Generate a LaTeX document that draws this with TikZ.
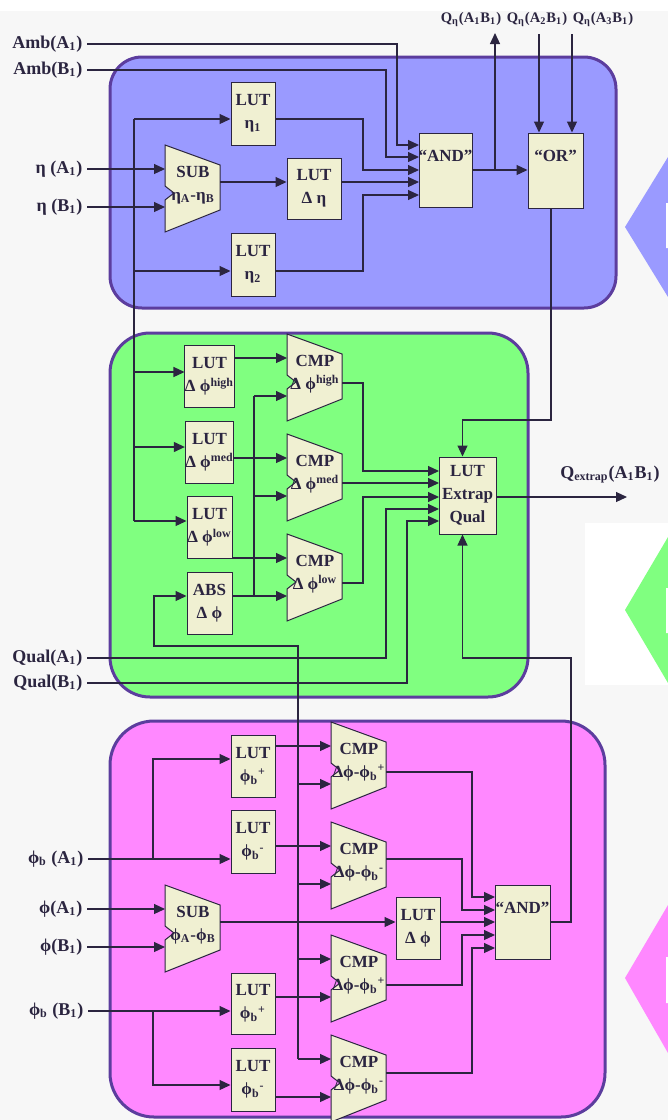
\documentclass[tikz,border=0pt]{standalone}
\usepackage{fontspec}
\setmainfont{Liberation Serif}
\usepackage{tikz}
\usetikzlibrary{arrows.meta}
\usepackage{xcolor}
\definecolor{ink}{HTML}{2B2540}
\definecolor{rim}{HTML}{5C3D9E}
\definecolor{etabg}{HTML}{9A9AFF}
\definecolor{qualbg}{HTML}{80FF80}
\definecolor{phibg}{HTML}{FF88FF}
\definecolor{cream}{HTML}{F0F0D2}
\definecolor{paper}{HTML}{F7F7F7}
\newcommand{\boxfont}{\bfseries\fontsize{8.5}{11.5}\selectfont}
\newcommand{\lblfont}{\bfseries\fontsize{9}{11}\selectfont}
\newcommand{\subx}[1]{\textsubscript{#1}}
\newcommand{\supx}[1]{\textsuperscript{#1}}
\newcommand{\phb}[1]{ϕ\subx{b}\supx{#1}}
\newcommand{\trapblk}[5]{%
  \draw[blk] (#2,#3) -- (#2+55,#3+20) -- (#2+55,#3+65) -- (#2,#3+87)
    -- (#2,#3+55) -- (#2+9,#3+48) -- (#2,#3+41) -- cycle;
  \node[txt] (#1) at (#2+28,#3+40) {#5};
  \coordinate (#1-a) at (#2,#3+24);
  \coordinate (#1-b) at (#2,#3+62);
  \coordinate (#1-o) at (#2+55,#3+#4);
}

\begin{document}
\begin{tikzpicture}[x=0.5pt,y=-0.5pt,color=ink,line width=0.6pt,
  >={Triangle[length=5.5pt,width=5pt]},
  lut/.style={draw=ink,fill=cream,line width=0.5pt,align=center,inner sep=0pt,text=ink,font=\boxfont},
  blk/.style={draw=ink,fill=cream,line width=0.5pt},
  txt/.style={align=center,inner sep=0pt,text=ink,font=\boxfont},
  lbl/.style={anchor=east,inner sep=2pt,text=ink,font=\lblfont},
  panel/.style={draw=rim,line width=1.5pt}]
\useasboundingbox (0,0) rectangle (668,1120);
\fill[paper] (0,11) rectangle (668,1120);
\fill[white] (585,523) rectangle (668,685);
\fill[etabg] (668,157) -- (625,227) -- (668,297) -- cycle;
\fill[qualbg] (668,537) -- (625,610) -- (668,683) -- cycle;
\fill[phibg] (668,905) -- (625,978) -- (668,1053) -- cycle;
\fill[white] (666,203) rectangle (668,248) (666,588) rectangle (668,633) (666,957) rectangle (668,1003);
\draw[panel,fill=etabg,rounded corners=16pt] (110,57) rectangle (616,308);
\draw[panel,fill=qualbg,rounded corners=20pt] (110,333) rectangle (528,697);
\draw[panel,fill=phibg,rounded corners=22pt] (110,721) rectangle (605,1117);

% inputs and outputs
\node[lbl] (ambA) at (87,44) {Amb(A\subx{1})};
\node[lbl] (ambB) at (87,70) {Amb(B\subx{1})};
\node[lbl] (etaA) at (87,169) {η (A\subx{1})};
\node[lbl] (etaB) at (87,207) {η (B\subx{1})};
\node[lbl] (qualA) at (87,658) {Qual(A\subx{1})};
\node[lbl] (qualB) at (87,683) {Qual(B\subx{1})};
\node[lbl] (phbA) at (88,859) {ϕ\subx{b} (A\subx{1})};
\node[lbl] (phiA) at (87,909) {ϕ(A\subx{1})};
\node[lbl] (phiB) at (87,947) {ϕ(B\subx{1})};
\node[lbl] (phbB) at (88,1011) {ϕ\subx{b} (B\subx{1})};
\node[txt,font=\bfseries\fontsize{7.3}{9}\selectfont] (q1) at (471,20) {Q\subx{η}(A\subx{1}B\subx{1})};
\node[txt,font=\bfseries\fontsize{7.3}{9}\selectfont] (q2) at (537,20) {Q\subx{η}(A\subx{2}B\subx{1})};
\node[txt,font=\bfseries\fontsize{7.3}{9}\selectfont] (q3) at (603,20) {Q\subx{η}(A\subx{3}B\subx{1})};
\node[txt,font=\lblfont] (qx) at (610,475) {Q\subx{extrap}(A\subx{1}B\subx{1})};

% eta block
\node[lut,minimum width=22pt,minimum height=31.5pt] (luteta1) at (253,113.5) {LUT\\η\subx{1}};
\node[lut,minimum width=22pt,minimum height=31.5pt] (luteta2) at (253,264.5) {LUT\\η\subx{2}};
\node[lut,minimum width=27pt,minimum height=30.5pt] (lutdeta) at (314,188.5) {LUT\\Δ η};
\node[lut,minimum width=26.5pt,minimum height=37pt] (and) at (445.5,170) {};
\node[txt] (andt) at (445.5,156) {“AND”};
\node[lut,minimum width=27.5pt,minimum height=37.5pt] (or) at (555.5,170.5) {};
\node[txt] (ort) at (555.5,156) {“OR”};
\trapblk{subeta}{165}{145}{37}{SUB\\η\subx{A}-η\subx{B}}
\foreach \i/\y in {1/145,2/157,3/170,4/182,5/195} \coordinate (ai\i) at (419,\y);

% quality block
\node[lut,minimum width=22.5pt,minimum height=31pt] (lutdh) at (209.5,376.5) {LUT\\Δ ϕ\supx{high}};
\node[lut,minimum width=22.5pt,minimum height=31pt] (lutdm) at (209.5,452) {LUT\\Δ ϕ\supx{med}};
\node[lut,minimum width=22.5pt,minimum height=31pt] (lutdl) at (209.5,527.5) {LUT\\Δ ϕ\supx{low}};
\node[lut,minimum width=22.5pt,minimum height=31pt] (abs) at (209.5,603) {ABS\\Δ ϕ};
\trapblk{cmph}{287}{334}{49}{CMP\\Δ ϕ\supx{high}}
\trapblk{cmpm}{287}{434}{49}{CMP\\Δ ϕ\supx{med}}
\trapblk{cmpl}{287}{534}{49}{CMP\\Δ ϕ\supx{low}}
\node[lut,minimum width=28.5pt,minimum height=38.5pt] (extrap) at (467.5,495.5) {LUT\\Extrap\\Qual};
\foreach \i/\y in {1/471,2/483,3/497,4/509,5/521} \coordinate (ei\i) at (439,\y);

% phi block
\node[lut,minimum width=22pt,minimum height=31pt] (lutp1) at (253,766) {LUT\\\phb{+}};
\node[lut,minimum width=22pt,minimum height=31.5pt] (lutp2) at (253,841.5) {LUT\\\phb{-}};
\node[lut,minimum width=22pt,minimum height=30.5pt] (lutp3) at (253,1003.5) {LUT\\\phb{+}};
\node[lut,minimum width=22pt,minimum height=31.5pt] (lutp4) at (253,1079.5) {LUT\\\phb{-}};
\node[lut,minimum width=22pt,minimum height=31pt] (lutdphi) at (418,928) {LUT\\Δ ϕ};
\node[lut,minimum width=27.5pt,minimum height=37pt] (pand) at (522.5,922) {};
\node[txt] (pandt) at (522.5,908) {“AND”};
\trapblk{subphi}{165}{885}{37}{SUB\\ϕ\subx{A}-ϕ\subx{B}}
\trapblk{cmp1}{331}{722}{50}{CMP\\Δϕ-\phb{+}}
\trapblk{cmp2}{331}{822}{37}{CMP\\Δϕ-\phb{-}}
\trapblk{cmp3}{331}{935}{50}{CMP\\Δϕ-\phb{+}}
\trapblk{cmp4}{331}{1035}{38}{CMP\\Δϕ-\phb{-}}
\foreach \i/\y in {1/897,2/910,3/922,4/935,5/948} \coordinate (pi\i) at (495,\y);

% eta wiring
\coordinate (jtop) at (134,119);
\coordinate (jeta2) at (134,271);
\coordinate (jh) at (134,372);
\coordinate (jm) at (134,447);
\coordinate (jbot) at (134,521);
\draw (jtop) -- (jbot);
\draw[->] (jtop) -- (jtop -| luteta1.west);
\draw[->] (jeta2) -- (jeta2 -| luteta2.west);
\draw[->] (etaA.east) -- (subeta-a);
\draw[->] (etaB.east) -- (subeta-b);
\draw[->] (subeta-o) -- (subeta-o -| lutdeta.west);
\draw[->] (ambA.east) -| ([xshift=-11pt]ai1) -- (ai1);
\draw[->] (ambB.east) -| ([xshift=-16.5pt]ai2) -- (ai2);
\draw[->] (luteta1.east |- jtop) -| ([xshift=-28pt]ai3) -- (ai3);
\draw[->] (ai4 -| lutdeta.east) -- (ai4);
\draw[->] (luteta2.east |- jeta2) -| ([xshift=-28pt]ai5) -- (ai5);
\draw[->] (ai3 -| and.east) -- (ai3 -| or.west);
\coordinate (qbr) at (495,170);
\coordinate (qout) at (495,33);
\draw[->] (qbr) -- (qout);
\coordinate (q2in) at (539,34);
\coordinate (q3in) at (572,34);
\draw[->] (q2in) -- (q2in |- or.north);
\draw[->] (q3in) -- (q3in |- or.north);
\coordinate (orturn) at (551,420);
\draw[->] (orturn |- or.south) -- (orturn) -| ([xshift=-2.5pt]extrap.north);

% quality wiring
\draw[->] (jh) -- (jh -| lutdh.west);
\draw[->] (jm) -- (jm -| lutdm.west);
\draw[->] (jbot) -- (jbot -| lutdl.west);
\draw[->] (cmph-a -| lutdh.east) -- (cmph-a);
\draw[->] (cmpm-a -| lutdm.east) -- (cmpm-a);
\draw[->] (cmpl-a -| lutdl.east) -- (cmpl-a);
\draw[->] (cmpl-b -| abs.east) -- (cmpl-b);
\path (cmpl-b) ++(-33,0) coordinate (absbr);
\draw (absbr) -- (absbr |- cmph-b);
\draw[->] (absbr |- cmph-b) -- (cmph-b);
\draw[->] (absbr |- cmpm-b) -- (cmpm-b);
\draw[->] (cmph-o) -| ([xshift=-38pt]ei1) -- (ei1);
\draw[->] (cmpm-o) -- (ei2);
\draw[->] (cmpl-o) -| ([xshift=-38pt]ei3) -- (ei3);
\draw[->] (qualA.east) -| ([xshift=-26.5pt]ei4) -- (ei4);
\draw[->] (qualB.east) -| ([xshift=-16pt]ei5) -- (ei5);
\coordinate (qxo) at (627,497);
\draw[->] (ei3 -| extrap.east) -- (qxo);

% phi wiring
\coordinate (dv) at (298,646);
\coordinate (dl) at (154,646);
\draw[->] (dv |- cmp4-a) -- (dv) -- (dl) |- (abs.west |- cmpl-b);
\draw[->] (dv |- cmp4-a) -- (cmp4-a);
\foreach \c in {cmp1-b,cmp2-b,cmp3-a} \draw[->] (dv |- \c) -- (\c);
\coordinate (pbA) at (153,859);
\coordinate (pbA1) at (153,759);
\coordinate (pbB) at (153,1011);
\coordinate (pbB1) at (153,1085);
\draw[->] (phbA.east) -- (phbA.east -| lutp2.west);
\draw[->] (pbA) -- (pbA1) -- (pbA1 -| lutp1.west);
\draw[->] (phbB.east) -- (phbB.east -| lutp3.west);
\draw[->] (pbB) -- (pbB1) -- (pbB1 -| lutp4.west);
\draw[->] (phiA.east) -- (subphi-a);
\draw[->] (phiB.east) -- (subphi-b);
\draw[->] (subphi-o) -- (subphi-o -| lutdphi.west);
\draw[->] (cmp1-a -| lutp1.east) -- (cmp1-a);
\draw[->] (cmp2-a -| lutp2.east) -- (cmp2-a);
\draw[->] (cmp3-b -| lutp3.east) -- (cmp3-b);
\draw[->] (cmp4-b -| lutp4.east) -- (cmp4-b);
\draw[->] (cmp1-o) -| ([xshift=-11.5pt]pi1) -- (pi1);
\draw[->] (cmp2-o) -| ([xshift=-16.5pt]pi2) -- (pi2);
\draw[->] (pi3 -| lutdphi.east) -- (pi3);
\draw[->] (cmp3-o) -| ([xshift=-16.5pt]pi4) -- (pi4);
\draw[->] (cmp4-o) -| ([xshift=-11.5pt]pi5) -- (pi5);
\coordinate (pturn) at (571,658);
\draw[->] (pi3 -| pand.east) -| (pturn) -| ([xshift=-2.5pt]extrap.south);
\end{tikzpicture}
\end{document}
